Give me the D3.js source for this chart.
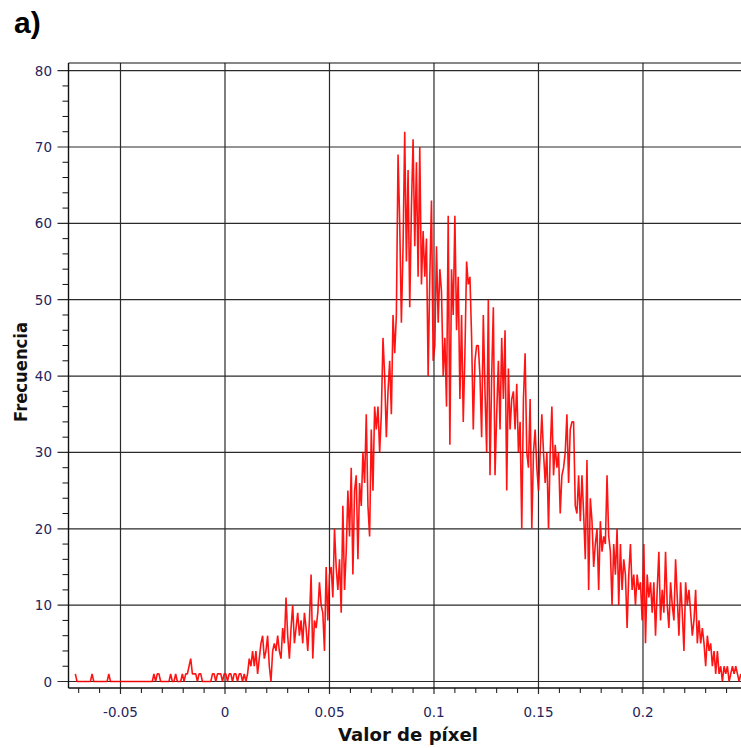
<!DOCTYPE html>
<html><head><meta charset="utf-8">
<script src="https://cdn.jsdelivr.net/npm/d3@7"></script>
<style>body{margin:0;background:#fff}svg{display:block}</style>
</head><body>
<svg id="c" width="741" height="748"></svg>
<script>
// ---- data ----
const binStart = -0.0716;   // first bin position (pixel value)
const binWidth = 0.0008;    // histogram bin width
const frequencies = [
 1,0,0,0,0,0,0,0,0,0, 1,0,0,0,0,0,0,0,0,0, 1,0,0,0,0,0,0,0,0,0,
 0,0,0,0,0,0,0,0,0,0, 0,0,0,0,0,0,0, 1,0,1,1, 0,0,0,0,0,0,
 1,0,0,1,0,0,0, 1,0,1,1,2,3,1, 1,1,0,1,1,0, 0,0,0,0,0,
 1,1,0,1,1,1,0,1, 1,0,1,1,0,1,1,0,1,1,0,1,0,1,
 3,2,4,2,4,1,3,
 5,6,3,4,6,2,0,4,5,4,
 6,4,3,7,5,11,6,3,7,10,
 5,7,9,6,8,5,9,7,4,8,
 14,3,8,7,9,13,10,9,4,15,
 8,14,15,11,20,15,12,16,9,23,
 12,17,25,19,28,14,25,27,16,26,
 23,30,26,35,23,19,33,25,36,33,
 36,30,35,45,40,32,38,42,35,48,
 43,48,69,60,47,57,72,55,67,49,
 62,71,57,68,53,70,52,59,53,58,
 40,53,63,42,44,57,47,54,51,40,
 45,36,61,31,54,48,61,46,53,37,
 48,34,43,55,52,53,45,33,42,44,
 44,40,32,48,38,30,50,27,40,49,
 27,35,42,33,45,37,46,25,41,33,
 37,38,33,39,30,34,20,37,43,30,
 28,37,20,30,33,28,25,30,35,30,
 26,30,20,30,36,27,31,28,30,22,
 27,28,30,35,26,33,34,34,23,22,
 27,21,27,22,16,29,12,24,21,15,
 18,20,12,21,17,19,18,27,19,17,
 10,18,14,20,10,18,12,16,14,7,
 14,18,12,14,10,14,12,13,8,18,
 5,14,11,13,9,13,6,12,17,8,
 12,9,17,10,7,13,10,8,16,11,
 6,13,9,4,13,10,12,9,6,8,
 12,5,8,5,7,5,2,6,4,5,
 2,4,1,4,1,2,0,2,1,2,
 0,1,2,1,2,1,0,1
];
const xTickValues = [-0.05, 0, 0.05, 0.1, 0.15, 0.2];
const xTickLabels = ["-0.05", "0", "0.05", "0.1", "0.15", "0.2"];
const yTickValues = [0, 10, 20, 30, 40, 50, 60, 70, 80];
const xTitle = "Valor de píxel";
const yTitle = "Frecuencia";
const panelLabel = "a)";

// ---- layout ----
const L = 68.5, T = 63, B = 688, Rr = 741;
const svg = d3.select("#c");
const x = d3.scaleLinear().domain([-0.07488, 0.2469]).range([L, Rr]);
const y = d3.scaleLinear().domain([-0.85, 81]).range([B, T]);

const gridColor = "#2a2a2a";
const labelColor = "#25255c";

// gridlines
svg.append("g").selectAll("line").data(xTickValues).join("line")
  .attr("x1", d => x(d)).attr("x2", d => x(d))
  .attr("y1", T).attr("y2", B + 6)
  .attr("stroke", gridColor).attr("stroke-width", 1.2);
svg.append("g").selectAll("line").data(yTickValues).join("line")
  .attr("x1", L - 11).attr("x2", Rr)
  .attr("y1", d => y(d)).attr("y2", d => y(d))
  .attr("stroke", gridColor).attr("stroke-width", 1.2);

// minor ticks
const xMinor = d3.range(-7, 25).map(k => k / 100).filter(v => Math.abs(Math.round(v * 100) % 5) !== 0);
svg.append("g").selectAll("line").data(xMinor).join("line")
  .attr("x1", d => x(d)).attr("x2", d => x(d))
  .attr("y1", B).attr("y2", B + 5)
  .attr("stroke", "#111").attr("stroke-width", 1);
const yMinor = d3.range(0, 81, 2).filter(v => v % 10 !== 0);
svg.append("g").selectAll("line").data(yMinor).join("line")
  .attr("x1", L - 6).attr("x2", L)
  .attr("y1", d => y(d)).attr("y2", d => y(d))
  .attr("stroke", "#111").attr("stroke-width", 1);

// frame
svg.append("line").attr("x1", L).attr("x2", Rr).attr("y1", T).attr("y2", T).attr("stroke", "#111").attr("stroke-width", 1.2);
svg.append("line").attr("x1", L).attr("x2", L).attr("y1", T).attr("y2", B).attr("stroke", "#111").attr("stroke-width", 1.4);
svg.append("line").attr("x1", L).attr("x2", Rr).attr("y1", B).attr("y2", B).attr("stroke", "#111").attr("stroke-width", 1.4);

// clip
svg.append("clipPath").attr("id", "clip").append("rect")
  .attr("x", L).attr("y", T).attr("width", Rr - L).attr("height", B - T);

// data line
const line = d3.line()
  .x((d, i) => x(binStart + i * binWidth))
  .y(d => y(d));
svg.append("path").datum(frequencies)
  .attr("clip-path", "url(#clip)")
  .attr("d", line)
  .attr("fill", "none")
  .attr("stroke", "#ff0000")
  .attr("stroke-opacity", 0.92)
  .attr("stroke-width", 1.6)
  .attr("stroke-linejoin", "bevel");

// tick labels
svg.append("g").selectAll("text").data(xTickValues).join("text")
  .attr("x", d => x(d)).attr("y", 717)
  .attr("text-anchor", "middle")
  .attr("font-family", "DejaVu Sans").attr("font-size", 13.5)
  .attr("fill", labelColor)
  .text((d, i) => xTickLabels[i]);
svg.append("g").selectAll("text").data(yTickValues).join("text")
  .attr("x", 52).attr("y", d => y(d) + 5)
  .attr("text-anchor", "end")
  .attr("font-family", "DejaVu Sans").attr("font-size", 13.5)
  .attr("fill", labelColor)
  .text(d => d);

// axis titles
svg.append("text").attr("x", 408).attr("y", 741)
  .attr("text-anchor", "middle")
  .attr("font-family", "DejaVu Sans").attr("font-weight", "bold").attr("font-size", 18)
  .attr("textLength", 140).attr("lengthAdjust", "spacingAndGlyphs")
  .attr("fill", "#111").text(xTitle);
svg.append("text").attr("transform", "translate(27,372) rotate(-90)")
  .attr("text-anchor", "middle")
  .attr("font-family", "DejaVu Sans").attr("font-weight", "bold").attr("font-size", 18)
  .attr("textLength", 100).attr("lengthAdjust", "spacingAndGlyphs")
  .attr("fill", "#111").text(yTitle);

// panel label
svg.append("text").attr("x", 14).attr("y", 33)
  .attr("font-family", "Liberation Sans").attr("font-weight", "bold").attr("font-size", 30)
  .attr("fill", "#000").text(panelLabel);
</script>
</body></html>
